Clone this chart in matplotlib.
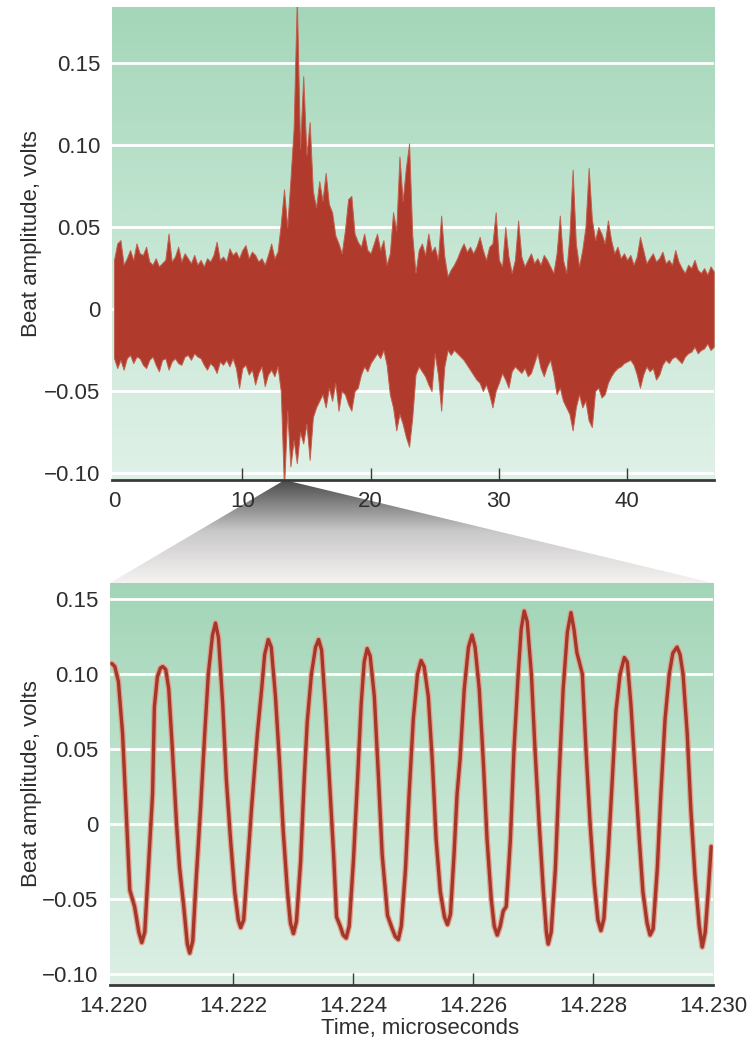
import numpy as np
import matplotlib
matplotlib.use("Agg")
import matplotlib.pyplot as plt
from matplotlib.colors import LinearSegmentedColormap
from matplotlib.patches import Polygon

plt.rcParams['font.family'] = ['Liberation Sans', 'DejaVu Sans']

# ---------------- data ----------------
# Full record, sampled every 0.25 microseconds: upper and lower envelope (volts)
record_step_us = 0.25
record_upper = [
    0.030, 0.040, 0.042, 0.027, 0.031, 0.036, 0.030, 0.040,   # 0 - 2 us
    0.034, 0.033, 0.038, 0.029, 0.027, 0.031, 0.026, 0.028,   # 2 - 4
    0.030, 0.046, 0.029, 0.032, 0.038, 0.029, 0.034, 0.031,   # 4 - 6
    0.028, 0.033, 0.027, 0.030, 0.026, 0.031, 0.029, 0.033,   # 6 - 8
    0.041, 0.030, 0.032, 0.029, 0.037, 0.033, 0.035, 0.031,   # 8 - 10
    0.036, 0.039, 0.031, 0.035, 0.033, 0.029, 0.031, 0.027,   # 10 - 12
    0.033, 0.040, 0.031, 0.035, 0.052, 0.073, 0.050, 0.079,   # 12 - 14
    0.110, 0.190, 0.098, 0.142, 0.094, 0.114, 0.072, 0.062,   # 14 - 16
    0.078, 0.066, 0.083, 0.064, 0.059, 0.045, 0.040, 0.034,   # 16 - 18
    0.048, 0.067, 0.069, 0.046, 0.041, 0.038, 0.046, 0.036,   # 18 - 20
    0.034, 0.040, 0.046, 0.036, 0.042, 0.027, 0.034, 0.059,   # 20 - 22
    0.048, 0.093, 0.066, 0.086, 0.101, 0.045, 0.022, 0.036,   # 22 - 24
    0.040, 0.033, 0.046, 0.035, 0.038, 0.030, 0.057, 0.032,   # 24 - 26
    0.020, 0.024, 0.027, 0.031, 0.036, 0.040, 0.035, 0.038,   # 26 - 28
    0.034, 0.038, 0.044, 0.036, 0.030, 0.038, 0.040, 0.059,   # 28 - 30
    0.030, 0.026, 0.050, 0.032, 0.022, 0.030, 0.054, 0.032,   # 30 - 32
    0.026, 0.030, 0.034, 0.028, 0.031, 0.027, 0.033, 0.030,   # 32 - 34
    0.026, 0.022, 0.034, 0.057, 0.030, 0.022, 0.045, 0.085,   # 34 - 36
    0.040, 0.026, 0.036, 0.050, 0.086, 0.055, 0.042, 0.050,   # 36 - 38
    0.046, 0.040, 0.054, 0.042, 0.034, 0.038, 0.031, 0.034,   # 38 - 40
    0.030, 0.033, 0.027, 0.032, 0.044, 0.036, 0.028, 0.031,   # 40 - 42
    0.034, 0.029, 0.031, 0.035, 0.028, 0.030, 0.027, 0.036,   # 42 - 44
    0.029, 0.025, 0.022, 0.027, 0.025, 0.030, 0.024, 0.022,   # 44 - 46
    0.025, 0.021, 0.026, 0.023,                               # 46 - 47
]
record_lower = [
    -0.030, -0.036, -0.031, -0.037, -0.030, -0.028, -0.033, -0.029,   # 0 - 2 us
    -0.030, -0.034, -0.036, -0.031, -0.029, -0.034, -0.038, -0.031,   # 2 - 4
    -0.030, -0.037, -0.032, -0.030, -0.033, -0.034, -0.029, -0.028,   # 4 - 6
    -0.031, -0.027, -0.029, -0.030, -0.034, -0.037, -0.033, -0.035,   # 6 - 8
    -0.039, -0.032, -0.034, -0.031, -0.035, -0.030, -0.036, -0.048,   # 8 - 10
    -0.036, -0.034, -0.040, -0.037, -0.046, -0.039, -0.035, -0.047,   # 10 - 12
    -0.040, -0.037, -0.041, -0.035, -0.050, -0.110, -0.062, -0.096,   # 12 - 14
    -0.080, -0.094, -0.075, -0.082, -0.070, -0.092, -0.066, -0.060,   # 14 - 16
    -0.056, -0.052, -0.060, -0.048, -0.056, -0.045, -0.062, -0.050,   # 16 - 18
    -0.052, -0.058, -0.062, -0.050, -0.048, -0.040, -0.035, -0.038,   # 18 - 20
    -0.033, -0.030, -0.027, -0.030, -0.025, -0.034, -0.052, -0.060,   # 20 - 22
    -0.074, -0.064, -0.070, -0.078, -0.084, -0.066, -0.040, -0.035,   # 22 - 24
    -0.038, -0.041, -0.046, -0.050, -0.027, -0.040, -0.062, -0.035,   # 24 - 26
    -0.025, -0.028, -0.025, -0.027, -0.029, -0.031, -0.034, -0.037,   # 26 - 28
    -0.040, -0.043, -0.045, -0.050, -0.046, -0.052, -0.060, -0.050,   # 28 - 30
    -0.045, -0.039, -0.043, -0.048, -0.038, -0.035, -0.037, -0.039,   # 30 - 32
    -0.036, -0.041, -0.039, -0.033, -0.027, -0.036, -0.041, -0.035,   # 32 - 34
    -0.031, -0.040, -0.052, -0.048, -0.056, -0.060, -0.064, -0.074,   # 34 - 36
    -0.060, -0.052, -0.060, -0.056, -0.068, -0.072, -0.050, -0.048,   # 36 - 38
    -0.054, -0.052, -0.045, -0.041, -0.038, -0.036, -0.035, -0.033,   # 38 - 40
    -0.032, -0.031, -0.034, -0.040, -0.048, -0.040, -0.035, -0.038,   # 40 - 42
    -0.036, -0.043, -0.040, -0.034, -0.031, -0.033, -0.030, -0.029,   # 42 - 44
    -0.031, -0.033, -0.029, -0.027, -0.026, -0.023, -0.027, -0.025,   # 44 - 46
    -0.024, -0.021, -0.025, -0.023,                                   # 46 - 47
]

# Detail record: nanoseconds after 14.220 microseconds, volts
detail_start_us = 14.220
detail_ns = [-0.03, 0.02, 0.08, 0.15, 0.22, 0.27, 0.35, 0.42, 0.47, 0.52, 0.58, 0.65,
             0.68, 0.73, 0.78, 0.82, 0.87, 0.92, 0.98, 1.05, 1.10, 1.17, 1.23, 1.27,
             1.32, 1.38, 1.45, 1.52, 1.58, 1.65, 1.70, 1.75, 1.82, 1.88, 1.95, 2.02,
             2.08, 2.12, 2.17, 2.23, 2.30, 2.40, 2.47, 2.52, 2.58, 2.63, 2.70, 2.77,
             2.83, 2.90, 2.95, 3.00, 3.05, 3.12, 3.18, 3.23, 3.30, 3.37, 3.42, 3.47,
             3.53, 3.60, 3.67, 3.72, 3.78, 3.83, 3.88, 3.93, 4.00, 4.07, 4.13, 4.18,
             4.23, 4.28, 4.35, 4.42, 4.48, 4.57, 4.65, 4.70, 4.75, 4.80, 4.87, 4.93,
             5.00, 5.07, 5.13, 5.18, 5.25, 5.32, 5.38, 5.45, 5.52, 5.57, 5.62, 5.68,
             5.73, 5.78, 5.85, 5.92, 5.98, 6.03, 6.10, 6.17, 6.23, 6.30, 6.35, 6.40,
             6.45, 6.50, 6.55, 6.62, 6.68, 6.75, 6.80, 6.85, 6.90, 6.97, 7.03, 7.10,
             7.17, 7.22, 7.25, 7.30, 7.37, 7.43, 7.50, 7.57, 7.63, 7.68, 7.73, 7.77,
             7.82, 7.88, 7.95, 8.02, 8.08, 8.13, 8.18, 8.25, 8.32, 8.38, 8.45, 8.52,
             8.57, 8.63, 8.70, 8.77, 8.83, 8.90, 8.95, 9.00, 9.07, 9.13, 9.20, 9.27,
             9.33, 9.40, 9.45, 9.50, 9.57, 9.63, 9.70, 9.77, 9.82, 9.87, 9.92, 9.97]
detail_v = [0.107, 0.105, 0.095, 0.060, 0.000, -0.044, -0.055, -0.072, -0.079, -0.072,
            -0.030, 0.020, 0.078, 0.098, 0.104, 0.105, 0.103, 0.090, 0.050, 0.000,
            -0.029, -0.055, -0.080, -0.086, -0.078, -0.035, 0.010, 0.060, 0.100, 0.126,
            0.134, 0.124, 0.080, 0.030, -0.010, -0.045, -0.064, -0.069, -0.064, -0.030,
            0.010, 0.061, 0.090, 0.113, 0.123, 0.118, 0.085, 0.040, -0.005, -0.045,
            -0.066, -0.073, -0.065, -0.025, 0.030, 0.068, 0.100, 0.118, 0.123, 0.116,
            0.080, 0.030, -0.020, -0.062, -0.068, -0.074, -0.076, -0.068, -0.025, 0.030,
            0.080, 0.108, 0.117, 0.112, 0.085, 0.030, -0.020, -0.061, -0.070, -0.075,
            -0.077, -0.068, -0.030, 0.020, 0.070, 0.100, 0.109, 0.105, 0.085, 0.040,
            -0.010, -0.045, -0.062, -0.067, -0.060, -0.020, 0.020, 0.043, 0.090, 0.118,
            0.126, 0.118, 0.090, 0.040, -0.010, -0.050, -0.068, -0.074, -0.068, -0.058,
            -0.055, -0.010, 0.050, 0.100, 0.130, 0.142, 0.135, 0.100, 0.050, 0.000,
            -0.045, -0.072, -0.080, -0.072, -0.030, 0.030, 0.090, 0.128, 0.141, 0.130,
            0.114, 0.108, 0.100, 0.050, 0.000, -0.040, -0.064, -0.071, -0.063, -0.020,
            0.030, 0.075, 0.100, 0.111, 0.108, 0.080, 0.035, -0.010, -0.045, -0.066,
            -0.074, -0.070, -0.030, 0.020, 0.070, 0.100, 0.114, 0.118, 0.113, 0.100,
            0.060, 0.010, -0.035, -0.068, -0.082, -0.072, -0.045, -0.015]

y_ticks = [-0.10, -0.05, 0.0, 0.05, 0.10, 0.15]
y_tick_labels = ['\u22120.10', '\u22120.05', '0', '0.05', '0.10', '0.15']
top_x_ticks = [0, 10, 20, 30, 40]
top_x_tick_labels = ['0', '10', '20', '30', '40']
top_tick_marks = [10, 20, 30, 40]
bottom_x_ticks = [14.220, 14.222, 14.224, 14.226, 14.228, 14.230]
bottom_x_tick_labels = ['14.220', '14.222', '14.224', '14.226', '14.228', '14.230']
bottom_tick_marks = [14.222, 14.224, 14.226, 14.228]
zoom_time_us = 13.3

# ---------------- styling ----------------
FILL_RED = '#b03a2c'
LINE_RED = '#a3372a'
TEXT = '#2e2e2e'
AXIS = '#3a3a3a'
FS = 16

fig = plt.figure(figsize=(7.53, 10.44), dpi=100)
ax_top = fig.add_axes([0.1487, 0.5402, 0.7995, 0.4531])
ax_bot = fig.add_axes([0.1461, 0.0565, 0.8008, 0.3851])

bg_top = LinearSegmentedColormap.from_list('bgtop', ['#e0f1e8', '#c4e6d3', '#a4d6b9'])
bg_bot = LinearSegmentedColormap.from_list('bgbot', ['#ddefe5', '#c0e4cf', '#a2d5b7'])
grad = np.linspace(0, 1, 256).reshape(-1, 1)


def style_axes(ax, xlim, ylim, cmap, xticks, xlabels, marks):
    ax.imshow(grad, extent=[xlim[0], xlim[1], ylim[0], ylim[1]], origin='lower',
              aspect='auto', cmap=cmap, zorder=0, interpolation='bicubic')
    for yv in y_ticks:
        ax.axhline(yv, color='white', lw=2.0, zorder=1)
    ax.set_xlim(*xlim)
    ax.set_ylim(*ylim)
    for side in ('top', 'right', 'left'):
        ax.spines[side].set_visible(False)
    ax.spines['bottom'].set_color(AXIS)
    ax.spines['bottom'].set_linewidth(2.0)
    ax.spines['bottom'].set_zorder(5)
    ax.set_yticks(y_ticks)
    ax.set_yticklabels(y_tick_labels)
    # labels on major ticks, visible tick marks only at the interior positions
    ax.xaxis.remove_overlapping_locs = False
    ax.set_xticks(xticks)
    ax.set_xticklabels(xlabels)
    ax.set_xticks(marks, minor=True)
    ax.tick_params(axis='y', length=0, pad=8.5, labelsize=FS, labelcolor=TEXT)
    ax.tick_params(axis='x', which='major', length=0, pad=8, labelsize=FS,
                   labelcolor=TEXT)
    ax.tick_params(axis='x', which='minor', direction='in', length=8.5, width=1.0,
                   color=AXIS)
    ax.set_ylabel('Beat amplitude, volts', fontsize=FS, color=TEXT)


# ---- upper panel: full record ----
record_t = np.arange(len(record_upper)) * record_step_us
top_xlim = (-0.16, record_t[-1] + 0.02)
top_ylim = (-0.1043, 0.1842)
style_axes(ax_top, top_xlim, top_ylim, bg_top, top_x_ticks, top_x_tick_labels,
           top_tick_marks)
ax_top.fill_between(record_t, record_lower, record_upper, facecolor=FILL_RED,
                    edgecolor='#c45f4e', lw=0.7, zorder=2)
ax_top.yaxis.set_label_coords(-0.116, 0.52)

# ---- lower panel: detail ----
detail_t = [detail_start_us + n * 1e-3 for n in detail_ns]
bot_xlim = (14.21994, 14.23)
bot_ylim = (-0.1073, 0.1607)
style_axes(ax_bot, bot_xlim, bot_ylim, bg_bot, bottom_x_ticks, bottom_x_tick_labels,
           bottom_tick_marks)
ax_bot.plot(detail_t, detail_v, color='#e2a08e', lw=4.2, solid_joinstyle='round',
            solid_capstyle='round', zorder=2)
ax_bot.plot(detail_t, detail_v, color=LINE_RED, lw=2.4, solid_joinstyle='round',
            solid_capstyle='round', zorder=3)
ax_bot.yaxis.set_label_coords(-0.113, 0.5)
ax_bot.set_xlabel('Time, microseconds', fontsize=FS, color=TEXT)
ax_bot.xaxis.set_label_coords(0.515, -0.109)
ax_bot.xaxis.label.set_va('center')

# ---- magnifier wedge between the panels ----
apex_fig = fig.transFigure.inverted().transform(
    ax_top.transData.transform((zoom_time_us, top_ylim[0])))
bl = fig.transFigure.inverted().transform(ax_bot.transAxes.transform((0, 1)))
br = fig.transFigure.inverted().transform(ax_bot.transAxes.transform((1, 1)))
yb, yt = bl[1], apex_fig[1]
ax_w = fig.add_axes([0, yb, 1, yt - yb], zorder=-1)
ax_w.set_xlim(0, 1)
ax_w.set_ylim(yb, yt)
ax_w.axis('off')
wedge_cmap = LinearSegmentedColormap.from_list('wedge', ['#f6f2f2', '#c9c9c9', '#4a4a4a'])
img = ax_w.imshow(grad, extent=[0, 1, yb, yt], origin='lower', aspect='auto',
                  cmap=wedge_cmap, interpolation='bicubic')
wedge = Polygon([(apex_fig[0], yt), (bl[0], yb), (br[0], yb)], closed=True,
                facecolor='none', edgecolor='none', transform=ax_w.transData)
ax_w.add_patch(wedge)
img.set_clip_path(wedge)

fig.savefig('out.png', dpi=100, facecolor='white')
